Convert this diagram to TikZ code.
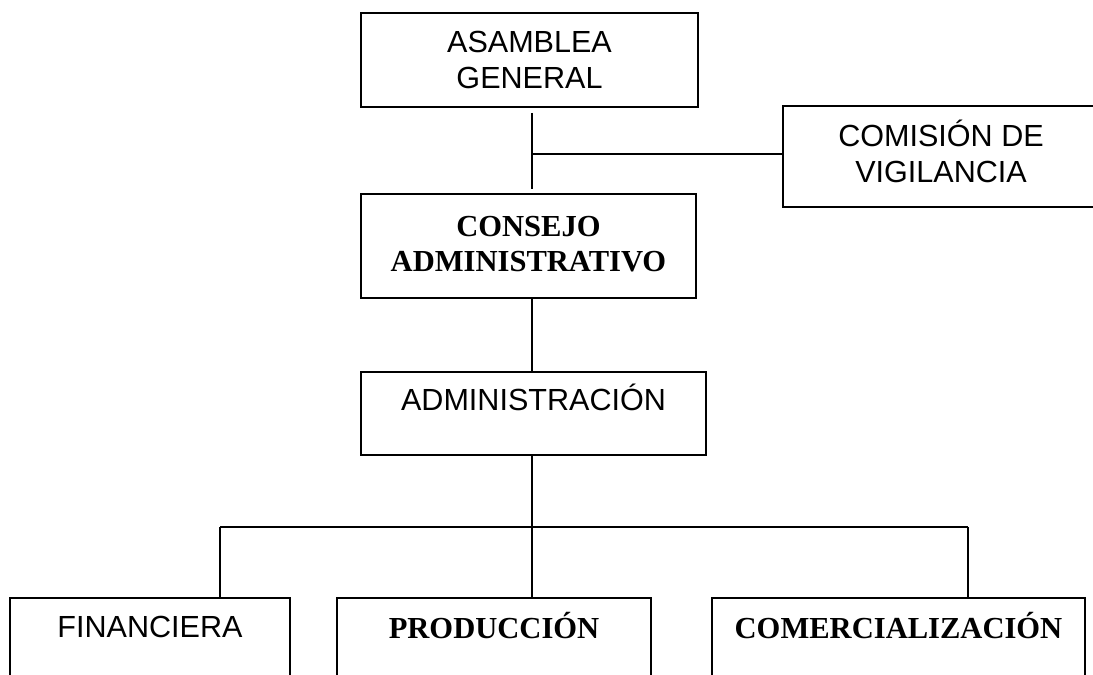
\documentclass[tikz,border=0pt]{standalone}
\usepackage{fontspec}
\setmainfont{Liberation Sans}
\newfontfamily\romana{Liberation Serif}
\newlength{\px}
\setlength{\px}{0.36pt}
\tikzset{
    caja/.style={draw,line width=0.6pt,inner sep=0pt,align=center,font=\fontsize{11}{13}\selectfont},
    negrita/.style={font=\romana\bfseries\fontsize{11}{12.6}\selectfont}
}

\begin{document}
\begin{tikzpicture}[x=0.36pt,y=-0.36pt]
        \useasboundingbox (0,0) rectangle (1093,675);
        \node[caja,minimum width=337\px,minimum height=94\px] (asamblea) at (529.5,60) {ASAMBLEA\\GENERAL};
        \node[caja,minimum width=316\px,minimum height=101\px] (comision) at (941,156.5) {COMISIÓN DE\\VIGILANCIA\rule[-10\px]{0pt}{10\px}};
        \node[caja,negrita,minimum width=335\px,minimum height=104\px] (consejo) at (528.5,246) {CONSEJO\\ADMINISTRATIVO\rule[-4\px]{0pt}{4\px}};
        \node[caja,anchor=north,minimum width=345\px,text height=39\px,text depth=44\px] (admin) at (533.5,371) {ADMINISTRACIÓN};
        \node[caja,anchor=north,minimum width=280\px,text height=40\px,text depth=80\px] (financiera) at (150,597) {FINANCIERA};
        \node[caja,negrita,anchor=north,minimum width=314\px,text height=41\px,text depth=80\px] (produccion) at (494,597) {PRODUCCIÓN};
        \node[caja,negrita,anchor=north,minimum width=373\px,text height=41\px,text depth=80\px] (comercial) at (898.5,597) {COMERCIALIZACIÓN};
        \coordinate (rama) at (532,154);
        \coordinate (bus) at (532,527);
        \coordinate (busL) at (220,527);
        \coordinate (busR) at (968,527);
        \draw[line width=0.6pt,shorten <=5\px,shorten >=4\px] (asamblea.south -| rama) -- (consejo.north -| rama);
        \draw[line width=0.6pt] (rama) -- (rama -| comision.west);
        \draw[line width=0.6pt] (consejo.south -| bus) -- (admin.north -| bus);
        \draw[line width=0.6pt] (admin.south -| bus) -- (bus);
        \draw[line width=0.6pt] (busL) -- (busR);
        \draw[line width=0.6pt] (busL) -- (busL |- financiera.north);
        \draw[line width=0.6pt] (bus) -- (bus |- produccion.north);
        \draw[line width=0.6pt] (busR) -- (busR |- comercial.north);
    \end{tikzpicture}
\end{document}
